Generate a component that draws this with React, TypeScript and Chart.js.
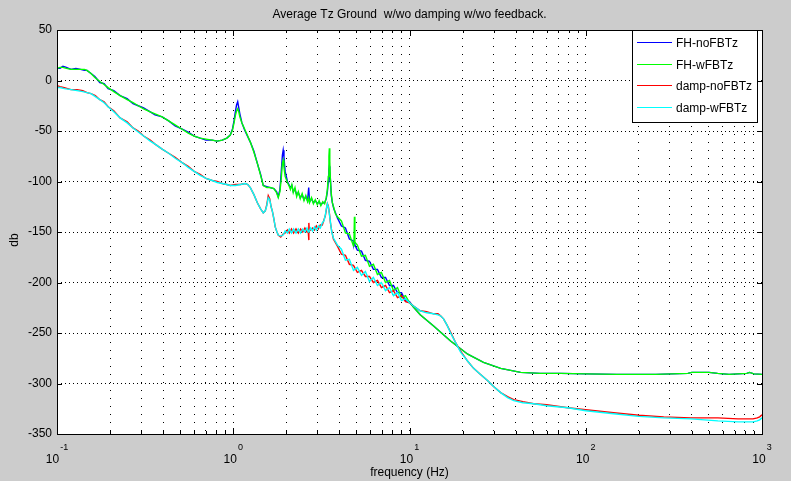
import React, { useEffect, useRef } from 'react';
import { Chart, registerables } from 'chart.js';

Chart.register(...registerables);

const FONT = '"Liberation Sans", Arial, Helvetica, sans-serif';

const titleText = 'Average Tz Ground  w/wo damping w/wo feedback.';
const xLabel = 'frequency (Hz)';
const yLabel = 'db';

const seriesLabels = ['FH-noFBTz', 'FH-wFBTz', 'damp-noFBTz', 'damp-wFBTz'];
const seriesColors = ['#0000ff', '#00ff00', '#ff0000', '#00ffff'];

const xMajorTicks = [0.1, 1, 10, 100, 1000];
const xGridTicks = [
  0.1, 0.2, 0.3, 0.4, 0.5, 0.6, 0.7, 0.8, 0.9,
  1, 2, 3, 4, 5, 6, 7, 8, 9,
  10, 20, 30, 40, 50, 60, 70, 80, 90,
  100, 200, 300, 400, 500, 600, 700, 800, 900, 1000,
];
const yMin = -350;
const yMax = 50;
const yStep = 50;

// FH (no damping) series
const fhFreq = [
  0.1, 0.104, 0.108, 0.113, 0.12, 0.128, 0.136, 0.143, 0.148, 0.156,
  0.164, 0.175, 0.185, 0.195, 0.21, 0.228, 0.25, 0.27, 0.289, 0.31,
  0.338, 0.36, 0.395, 0.43, 0.468, 0.51, 0.555, 0.6, 0.649, 0.7,
  0.76, 0.81, 0.866, 0.92, 0.962, 0.99, 1.01, 1.03, 1.045, 1.06,
  1.075, 1.09, 1.12, 1.16, 1.25, 1.31, 1.37, 1.43, 1.48, 1.55,
  1.62, 1.7, 1.76, 1.8, 1.84, 1.87, 1.9, 1.92, 1.94, 1.97,
  2.03, 2.08, 2.11, 2.15, 2.19, 2.24, 2.29, 2.34, 2.4, 2.46,
  2.52, 2.58, 2.64, 2.68, 2.71, 2.78, 2.85, 2.92, 3.0, 3.07,
  3.14, 3.22, 3.3, 3.37, 3.42, 3.46, 3.49, 3.51, 3.53, 3.56,
  3.6, 3.65, 3.72, 3.8, 3.9, 4.11, 4.33, 4.56, 4.81, 4.84,
  4.87, 4.9, 5.06, 5.34, 5.62, 5.93, 6.24, 6.58, 6.93, 7.31,
  7.7, 8.11, 8.55, 9.01, 9.49, 10.0, 10.5, 11.5, 13.7, 17.1,
  21.4, 26.3, 32.9, 42.7, 55, 72, 100, 150, 250, 380,
  400, 500, 560, 650, 820, 850, 900, 1000,
];
const fhNoFB = [
  12, 12, 14, 13, 11, 12, 11, 10, 10, 7,
  4, -2, -3, -8, -10, -15, -18, -23, -25, -27,
  -31, -34, -36, -40, -45, -48, -51, -55, -57, -59,
  -59, -60, -59, -57, -54, -48, -40, -30, -24, -21,
  -27, -33, -42, -49, -61, -70, -82, -93, -104, -105,
  -106, -107, -110, -115, -108, -92, -74, -69, -76, -90,
  -100, -104, -106, -104, -110, -108, -113, -111, -116, -113,
  -118, -115, -119, -106, -120, -117, -121, -119, -122, -120,
  -123, -121, -121, -117, -110, -100, -88, -85, -90, -98,
  -114, -121, -127, -131, -136, -144, -146, -157, -159, -162,
  -160, -163, -168, -169, -178, -179, -187, -187, -195, -195,
  -203, -203, -210, -210, -218, -219, -224, -232, -243, -258,
  -271, -279, -285, -289, -290, -290, -290.5, -291, -291, -290,
  -289, -289, -290, -291, -290, -289, -290.5, -291,
];
const fhWFB = [
  12, 13, 13, 12, 11, 11, 11, 11, 10, 7,
  3, -1, -4, -7, -11, -15, -19, -22, -25, -28,
  -31, -33, -36, -40, -44, -48, -52, -55, -57, -58,
  -59, -60, -59, -57, -54, -49, -42, -34, -30, -28,
  -31, -36, -42, -48, -61, -71, -82, -94, -104, -106,
  -106, -107, -111, -116, -110, -98, -82, -79, -86, -95,
  -101, -105, -108, -103, -111, -106, -115, -110, -117, -112,
  -119, -114, -120, -116, -121, -116, -122, -118, -123, -119,
  -124, -120, -122, -116, -108, -95, -75, -67, -80, -100,
  -112, -121, -126, -132, -135, -139, -151, -152, -164, -160,
  -135, -160, -163, -174, -173, -184, -182, -192, -190, -200,
  -198, -208, -205, -215, -213, -220, -224, -232, -243, -258,
  -271, -279, -285, -289, -290, -290, -290.5, -291, -291, -290,
  -289, -289, -290, -291, -290, -289, -290.5, -291,
];

// damped series
const dampFreq = [
  0.1, 0.104, 0.11, 0.12, 0.13, 0.14, 0.148, 0.156, 0.165, 0.175,
  0.185, 0.195, 0.21, 0.228, 0.25, 0.27, 0.289, 0.31, 0.338, 0.36,
  0.395, 0.43, 0.468, 0.51, 0.555, 0.6, 0.649, 0.7, 0.76, 0.81,
  0.866, 0.92, 0.962, 1.03, 1.1, 1.17, 1.21, 1.25, 1.31, 1.37,
  1.43, 1.48, 1.52, 1.55, 1.58, 1.61, 1.64, 1.67, 1.7, 1.73,
  1.77, 1.8, 1.86, 1.92, 1.97, 2.03, 2.08, 2.14, 2.2, 2.27,
  2.34, 2.41, 2.48, 2.55, 2.62, 2.665, 2.68, 2.69, 2.7, 2.75,
  2.82, 2.89, 2.96, 3.04, 3.12, 3.2, 3.27, 3.33, 3.38, 3.42,
  3.46, 3.51, 3.56, 3.62, 3.7, 3.9, 4.11, 4.33, 4.56, 4.81,
  5.06, 5.34, 5.62, 5.93, 6.24, 6.58, 6.93, 7.31, 7.7, 8.11,
  8.55, 9.01, 9.49, 10.0, 10.5, 11.5, 12.5, 13.7, 14.5, 15.0,
  15.6, 16.3, 17.1, 18.2, 19.5, 21.4, 23.1, 25.3, 27.7, 30,
  32.9, 36, 39, 44, 50.7, 60, 79.1, 100, 144, 200,
  277, 395, 562, 731, 890, 940, 970, 1000,
];
const dampNoFB = [
  -5, -6, -7, -9, -9, -10, -12, -13, -15, -19,
  -21, -26, -30, -37, -41, -47, -50, -55, -59, -63,
  -68, -72, -76, -81, -85, -90, -93, -97, -99, -100,
  -102, -103, -104, -103, -103, -102, -103, -106, -113, -121,
  -127, -131, -129, -123, -114, -117, -125, -130, -137, -145,
  -150, -153, -155, -152, -151, -148, -151, -147, -151, -147,
  -151, -147, -150, -146, -150, -150, -158, -141, -149, -148,
  -146, -148, -144, -147, -143, -143, -138, -134, -127, -122,
  -124, -131, -141, -149, -157, -164, -172, -173, -182, -183,
  -190, -188, -194, -194, -200, -198, -205, -203, -210, -208,
  -215, -213, -219, -220, -223, -228, -229, -231, -231, -233,
  -236, -242, -249, -259, -268, -278, -285, -291, -297, -303,
  -309, -313, -316, -318, -320, -321, -324, -326, -329, -331.5,
  -333, -334, -334, -335, -335, -334, -333, -331,
];
const dampWFB = [
  -7, -7, -8, -9, -10, -11, -12, -13, -16, -19,
  -22, -26, -31, -37, -42, -47, -51, -55, -60, -63,
  -68, -72, -77, -81, -86, -90, -94, -97, -99, -101,
  -102, -103, -104, -104, -103, -102, -103, -106, -113, -121,
  -127, -131, -129, -124, -116, -118, -125, -130, -137, -145,
  -150, -153, -154, -153, -149, -151, -147, -151, -147, -151,
  -147, -151, -147, -150, -146, -150, -149, -149, -149, -146,
  -149, -145, -148, -144, -146, -141, -139, -133, -126, -122,
  -125, -132, -140, -150, -156, -163, -167, -178, -177, -188,
  -185, -193, -189, -199, -195, -203, -200, -208, -205, -213,
  -210, -218, -216, -220, -223, -228, -230, -231, -232, -233,
  -236, -242, -250, -259, -269, -278, -285, -291, -297, -303,
  -309, -314, -317, -319, -320, -322, -324, -327, -330, -332.5,
  -334, -335, -337, -338, -338, -337, -336, -334,
];

const matlabPlugin = {
  id: 'matlabLook',
  beforeDraw(chart: any) {
    const { ctx, chartArea: a, width, height } = chart;
    ctx.save();
    ctx.fillStyle = '#cccccc';
    ctx.fillRect(0, 0, width, height);
    ctx.fillStyle = '#ffffff';
    ctx.fillRect(a.left, a.top, a.right - a.left, a.bottom - a.top);
    ctx.restore();
  },
  afterDraw(chart: any) {
    const { ctx, chartArea: a } = chart;
    const xs = chart.scales.x;
    const ys = chart.scales.y;
    ctx.save();
    ctx.setLineDash([]);
    ctx.strokeStyle = '#000';
    ctx.lineWidth = 1;

    // inward tick marks
    ctx.beginPath();
    for (const t of ys.ticks) {
      const y = Math.round(ys.getPixelForValue(t.value)) + 0.5;
      ctx.moveTo(a.left, y);
      ctx.lineTo(a.left + 5, y);
      ctx.moveTo(a.right, y);
      ctx.lineTo(a.right - 5, y);
    }
    for (const v of xGridTicks) {
      const x = Math.round(xs.getPixelForValue(v)) + 0.5;
      const len = xMajorTicks.includes(v) ? 6 : 3;
      ctx.moveTo(x, a.bottom);
      ctx.lineTo(x, a.bottom - len);
      ctx.moveTo(x, a.top);
      ctx.lineTo(x, a.top + len);
    }
    ctx.stroke();

    // legend box
    const lw = 125;
    const lh = 92;
    const lx = Math.round(a.right) - 130;
    const ly = Math.round(a.top);
    ctx.fillStyle = '#ffffff';
    ctx.fillRect(lx, ly, lw, lh);
    ctx.strokeStyle = '#000';
    ctx.strokeRect(lx + 0.5, ly + 0.5, lw, lh);
    ctx.font = `12px ${FONT}`;
    ctx.textAlign = 'left';
    ctx.textBaseline = 'alphabetic';
    chart.data.datasets.forEach((ds: any, i: number) => {
      const y = Math.round(ly + 12 + i * 21.7) + 0.5;
      ctx.strokeStyle = ds.borderColor;
      ctx.beginPath();
      ctx.moveTo(lx + 5, y);
      ctx.lineTo(lx + 40, y);
      ctx.stroke();
      ctx.fillStyle = '#000';
      ctx.fillText(ds.label, lx + 44, y + 4);
    });

    // axes frame
    ctx.strokeStyle = '#000';
    ctx.strokeRect(
      Math.round(a.left) + 0.5,
      Math.round(a.top) + 0.5,
      Math.round(a.right - a.left),
      Math.round(a.bottom - a.top)
    );

    // x tick labels 10^n
    ctx.fillStyle = '#000';
    for (const v of xMajorTicks) {
      const x = xs.getPixelForValue(v);
      const exp = String(Math.round(Math.log10(v)));
      ctx.font = `12px ${FONT}`;
      const w1 = ctx.measureText('10').width;
      ctx.font = `9px ${FONT}`;
      const w2 = ctx.measureText(exp).width;
      const start = x - (w1 + 1 + w2) / 2;
      ctx.font = `12px ${FONT}`;
      ctx.fillText('10', start, 463);
      ctx.font = `9px ${FONT}`;
      ctx.fillText(exp, start + w1 + 1, 450);
    }

    // title and axis labels
    const cx = (a.left + a.right) / 2;
    ctx.font = `12px ${FONT}`;
    ctx.textAlign = 'center';
    ctx.fillText(titleText, cx, 18);
    ctx.fillText(xLabel, cx, 476);
    ctx.translate(15, (a.top + a.bottom) / 2 + 8);
    ctx.rotate(-Math.PI / 2);
    ctx.textBaseline = 'middle';
    ctx.fillText(yLabel, 0, 0);
    ctx.restore();
  },
};

export default function App() {
  const ref = useRef<HTMLCanvasElement>(null);
  useEffect(() => {
    const canvas = ref.current as HTMLCanvasElement;
    const pts = (fr: number[], vals: number[]) => fr.map((f, i) => ({ x: f, y: vals[i] }));
    const chart = new Chart(canvas, {
      type: 'line',
      data: {
        datasets: [
          { label: seriesLabels[0], data: pts(fhFreq, fhNoFB), borderColor: seriesColors[0], order: 4 },
          { label: seriesLabels[1], data: pts(fhFreq, fhWFB), borderColor: seriesColors[1], order: 3 },
          { label: seriesLabels[2], data: pts(dampFreq, dampNoFB), borderColor: seriesColors[2], order: 2 },
          { label: seriesLabels[3], data: pts(dampFreq, dampWFB), borderColor: seriesColors[3], order: 1 },
        ],
      } as any,
      options: {
        animation: false,
        responsive: false,
        devicePixelRatio: 1,
        layout: { padding: { left: 0, right: 29, top: 30, bottom: 0 } },
        elements: {
          point: { radius: 0 },
          line: { borderWidth: 1.4, tension: 0, fill: false },
        },
        plugins: {
          legend: { display: false },
          tooltip: { enabled: false },
          title: { display: false },
        },
        scales: {
          x: {
            type: 'logarithmic',
            min: 0.1,
            max: 1000,
            afterBuildTicks: (s: any) => {
              s.ticks = xGridTicks.map((v) => ({ value: v }));
            },
            afterFit: (s: any) => {
              s.height = 47;
            },
            ticks: { display: false },
            grid: { color: '#000', lineWidth: 1, drawTicks: false },
            border: { display: false, dash: [1, 7] },
          },
          y: {
            type: 'linear',
            min: yMin,
            max: yMax,
            afterFit: (s: any) => {
              s.width = 57;
            },
            ticks: {
              stepSize: yStep,
              color: '#000',
              font: { family: FONT, size: 12 },
              padding: 5,
            },
            grid: { color: '#000', lineWidth: 1, drawTicks: false },
            border: { display: false, dash: [1, 3] },
          },
        },
      } as any,
      plugins: [matlabPlugin],
    });
    return () => chart.destroy();
  }, []);
  return (
    <div style={{ position: 'fixed', left: 0, top: 0, width: 791, height: 481, background: '#cccccc' }}>
      <canvas ref={ref} width={791} height={481} style={{ display: 'block' }} />
    </div>
  );
}
